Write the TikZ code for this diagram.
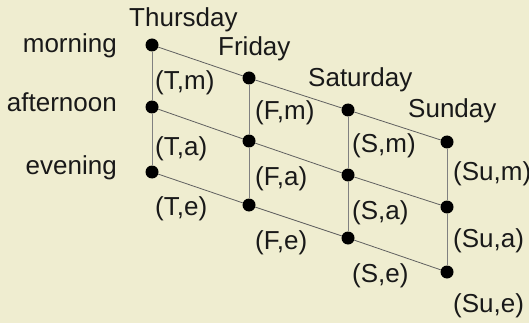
\documentclass[tikz,border=0pt]{standalone}
\usepackage{fontspec}
\setmainfont{Liberation Sans}
\definecolor{bg}{RGB}{239,237,208}
\begin{document}
\begin{tikzpicture}[x=1pt,y=-1pt,
  dot/.style={circle,fill=black,inner sep=0pt,minimum size=13pt},
  vlink/.style={draw=gray,line width=1pt},
  dlink/.style={draw=gray!75!black,line width=0.8pt},
  lbl/.style={font=\fontsize{26}{31}\selectfont,inner sep=0pt,text=black!90}]
\fill[bg] (0,0) rectangle (529,323);
\useasboundingbox (0,0) rectangle (529,323);
% dots
\node[dot] (Tm) at (152,45) {};
\node[dot] (Ta) at (152,107) {};
\node[dot] (Te) at (152,172) {};
\node[dot] (Fm) at (249,78) {};
\node[dot] (Fa) at (249,141) {};
\node[dot] (Fe) at (249,205) {};
\node[dot] (Sm) at (348,110) {};
\node[dot] (Sa) at (348,175) {};
\node[dot] (Se) at (348,238) {};
\node[dot] (Um) at (447,142) {};
\node[dot] (Ua) at (447,207) {};
\node[dot] (Ue) at (447,272) {};
% connectors
\draw[vlink] (Tm) -- (Ta) -- (Te);
\draw[vlink] (Fm) -- (Fa) -- (Fe);
\draw[vlink] (Sm) -- (Sa) -- (Se);
\draw[vlink] (Um) -- (Ua) -- (Ue);
\draw[dlink] (Tm) -- (Fm) -- (Sm) -- (Um);
\draw[dlink] (Ta) -- (Fa) -- (Sa) -- (Ua);
\draw[dlink] (Te) -- (Fe) -- (Se) -- (Ue);
% day labels
\node[lbl,anchor=base west] (thu) at (129,27) {Thursday};
\node[lbl,anchor=base west] (fri) at (218,56) {Friday};
\node[lbl,anchor=base west] (sat) at (308,87) {Saturday};
\node[lbl,anchor=base west] (sun) at (408,118) {Sunday};
% time labels
\node[lbl,anchor=base east] (mor) at (117,53) {morning};
\node[lbl,anchor=base east] (aft) at (117,112) {afternoon};
\node[lbl,anchor=base east] (eve) at (117,174) {evening};
% pair labels
\node[lbl,anchor=base west] (lTm) at (155,90) {(T,m)};
\node[lbl,anchor=base west] (lTa) at (155,155) {(T,a)};
\node[lbl,anchor=base west] (lTe) at (155,215) {(T,e)};
\node[lbl,anchor=base west] (lFm) at (255,120) {(F,m)};
\node[lbl,anchor=base west] (lFa) at (255,185) {(F,a)};
\node[lbl,anchor=base west] (lFe) at (255,249) {(F,e)};
\node[lbl,anchor=base west] (lSm) at (352,153) {(S,m)};
\node[lbl,anchor=base west] (lSa) at (352,219) {(S,a)};
\node[lbl,anchor=base west] (lSe) at (352,282) {(S,e)};
\node[lbl,anchor=base west] (lUm) at (453,180) {(Su,m)};
\node[lbl,anchor=base west] (lUa) at (453,247) {(Su,a)};
\node[lbl,anchor=base west] (lUe) at (453,312) {(Su,e)};
\end{tikzpicture}
\end{document}
